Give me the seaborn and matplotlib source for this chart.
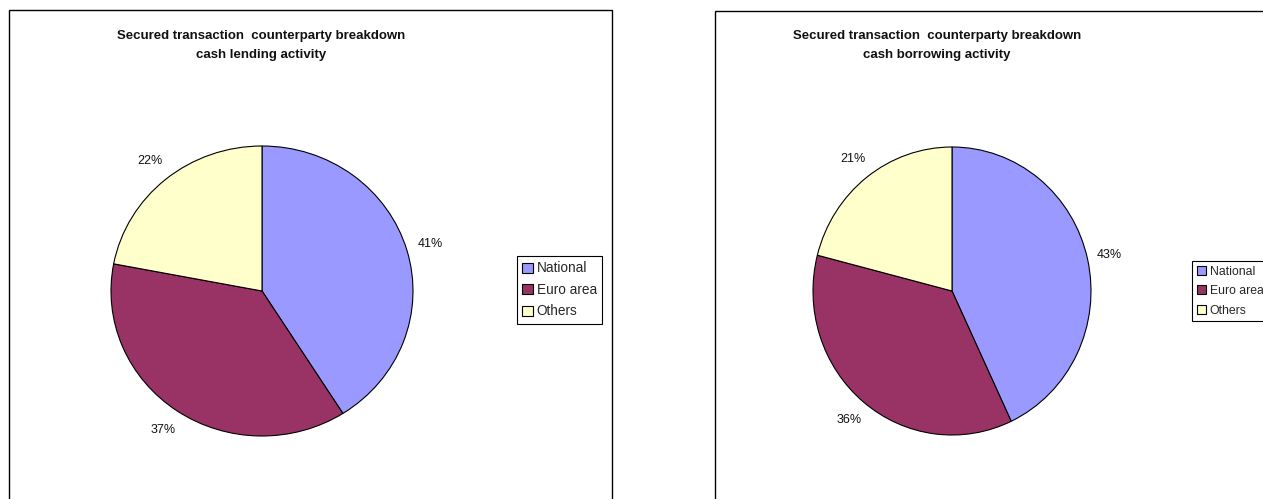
import matplotlib
matplotlib.use("Agg")
import matplotlib.pyplot as plt
import seaborn as sns
from matplotlib.patches import Rectangle

# Counterparty breakdown of secured transactions (percent of activity)
categories = ["National", "Euro area", "Others"]
lending_share = [41, 37, 22]
borrowing_share = [43, 36, 21]
title_line1 = "Secured transaction  counterparty breakdown"
panel_subtitles = ["cash lending activity", "cash borrowing activity"]

palette = sns.color_palette(["#9999FF", "#993366", "#FFFFCC"])

sns.set_theme(style="white")
plt.rcParams["font.family"] = ["Liberation Sans", "DejaVu Sans"]

W, H = 1263, 499
fig = plt.figure(figsize=(W / 100, H / 100), dpi=100)
fig.patch.set_facecolor("white")


def fx(x):
    return x / W


def fy(y_top):
    return 1 - y_top / H


def add_frame(x0, x1, y0, y1):
    fig.add_artist(Rectangle((fx(x0), fy(y1)), fx(x1 - x0), (y1 - y0) / H,
                             transform=fig.transFigure, fill=False,
                             edgecolor="black", linewidth=1.0))


def draw_panel(values, subtitle, frame, centre, radii, title_x, legend_anchor,
               legend_size, legend_spacing):
    add_frame(*frame)
    cx, cy = centre
    rx, ry = radii
    lim = 1.4
    ax = fig.add_axes([fx(cx - rx * lim), fy(cy + ry * lim),
                       fx(2 * rx * lim), 2 * ry * lim / H])
    wedges, _, autotexts = ax.pie(
        values, colors=palette, startangle=90, counterclock=False,
        autopct=lambda p: f"{p:.0f}%", pctdistance=1.16,
        wedgeprops=dict(edgecolor="black", linewidth=0.8),
        textprops=dict(fontsize=9, color="#111111"))
    ax.set_aspect("auto")
    ax.set_xlim(-lim, lim)
    ax.set_ylim(-lim, lim)
    ax.axis("off")

    fig.text(fx(title_x), fy(36), title_line1, ha="center", va="center",
             fontsize=9.5, fontweight="bold", color="#111111")
    fig.text(fx(title_x), fy(55), subtitle, ha="center", va="center",
             fontsize=9.5, fontweight="bold", color="#111111")

    leg = fig.legend(wedges, categories, loc="upper left",
                     bbox_to_anchor=(fx(legend_anchor[0]), fy(legend_anchor[1])),
                     bbox_transform=fig.transFigure, borderaxespad=0,
                     frameon=True, fancybox=False, shadow=False,
                     fontsize=legend_size, handlelength=0.75, handleheight=0.75,
                     handletextpad=0.3, labelspacing=legend_spacing,
                     borderpad=0.4)
    frame_patch = leg.get_frame()
    frame_patch.set_edgecolor("black")
    frame_patch.set_linewidth(0.8)
    frame_patch.set_alpha(1)


draw_panel(lending_share, panel_subtitles[0], (9, 612, 10, 520),
           (262, 291), (151, 145), 261, (517, 256), 9.8, 0.55)
draw_panel(borrowing_share, panel_subtitles[1], (715, 1300, 11, 520),
           (952, 291), (139, 144), 937, (1192, 261), 8.8, 0.6)

fig.savefig("out.png", dpi=100, facecolor="white")
